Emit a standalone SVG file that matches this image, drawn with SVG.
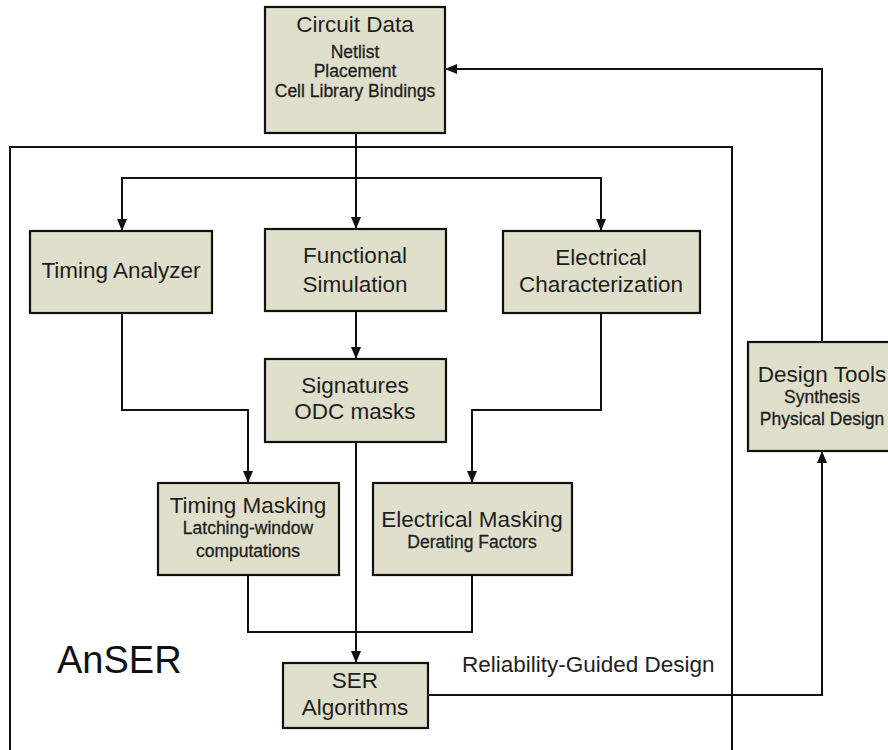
<svg xmlns="http://www.w3.org/2000/svg" width="888" height="750" viewBox="0 0 888 750">
<style>
.box{fill:#dfdfcb;stroke:#111;stroke-width:2.2}
.t{font-family:"Liberation Sans",Arial,sans-serif;font-size:22.5px;fill:#1e1e1e;text-anchor:middle}
.s{font-family:"Liberation Sans",Arial,sans-serif;font-size:17.5px;fill:#1e1e1e;text-anchor:middle;stroke:#1e1e1e;stroke-width:0.3}
.c{fill:none;stroke:#111;stroke-width:2}
</style>
<defs>
<marker id="ah" markerUnits="userSpaceOnUse" markerWidth="13" markerHeight="12" refX="12" refY="5" orient="auto">
<path d="M0,0 L12,5 L0,10 z" fill="#111"/>
</marker>
</defs>
<rect x="0" y="0" width="888" height="750" fill="#fff"/>
<g id="frame">
<rect x="10" y="147" width="722" height="640" fill="none" stroke="#111" stroke-width="2"/>
<text x="57" y="673" style="font-family:'Liberation Sans',Arial,sans-serif;font-size:38px;fill:#111">AnSER</text>
<text x="462" y="672" style="font-family:'Liberation Sans',Arial,sans-serif;font-size:22.5px;fill:#1e1e1e">Reliability-Guided Design</text>
</g>
<g id="connectors">
<path class="c" d="M356,133 V229" marker-end="url(#ah)"/>
<path class="c" d="M356,178 H122 V231" marker-end="url(#ah)"/>
<path class="c" d="M356,178 H601 V231" marker-end="url(#ah)"/>
<path class="c" d="M356,311 V359" marker-end="url(#ah)"/>
<path class="c" d="M122,313 V410 H248 V483" marker-end="url(#ah)"/>
<path class="c" d="M601,313 V410 H472 V483" marker-end="url(#ah)"/>
<path class="c" d="M356,442 V663" marker-end="url(#ah)"/>
<path class="c" d="M248,575 V632 H472 V575"/>
<path class="c" d="M428,695 H822 V451" marker-end="url(#ah)"/>
<path class="c" d="M822,342 V69 H445" marker-end="url(#ah)"/>
</g>
<g id="circuit-data">
<rect class="box" x="265" y="7" width="180" height="126"/>
<text class="t" x="355" y="32">Circuit Data</text>
<text class="s" x="355" y="58">Netlist</text>
<text class="s" x="355" y="77">Placement</text>
<text class="s" x="355" y="97">Cell Library Bindings</text>
</g>
<g id="timing-analyzer">
<rect class="box" x="30" y="231" width="182" height="82"/>
<text class="t" x="121" y="278">Timing Analyzer</text>
</g>
<g id="functional-simulation">
<rect class="box" x="265" y="229" width="181" height="82"/>
<text class="t" x="355" y="263">Functional</text>
<text class="t" x="355" y="292">Simulation</text>
</g>
<g id="electrical-characterization">
<rect class="box" x="503" y="231" width="197" height="82"/>
<text class="t" x="601" y="265">Electrical</text>
<text class="t" x="601" y="292">Characterization</text>
</g>
<g id="signatures">
<rect class="box" x="265" y="359" width="181" height="83"/>
<text class="t" x="355" y="393">Signatures</text>
<text class="t" x="355" y="419">ODC masks</text>
</g>
<g id="timing-masking">
<rect class="box" x="158" y="483" width="181" height="92"/>
<text class="t" x="248" y="513">Timing Masking</text>
<text class="s" x="248" y="534">Latching-window</text>
<text class="s" x="248" y="557">computations</text>
</g>
<g id="electrical-masking">
<rect class="box" x="373" y="483" width="199" height="92"/>
<text class="t" x="472" y="527">Electrical Masking</text>
<text class="s" x="472" y="548">Derating Factors</text>
</g>
<g id="ser-algorithms">
<rect class="box" x="283" y="663" width="145" height="65"/>
<text class="t" x="355" y="688">SER</text>
<text class="t" x="355" y="715">Algorithms</text>
</g>
<g id="design-tools">
<rect class="box" x="748" y="342" width="150" height="109"/>
<text class="t" x="822" y="382">Design Tools</text>
<text class="s" x="822" y="403">Synthesis</text>
<text class="s" x="822" y="425">Physical Design</text>
</g>
</svg>
